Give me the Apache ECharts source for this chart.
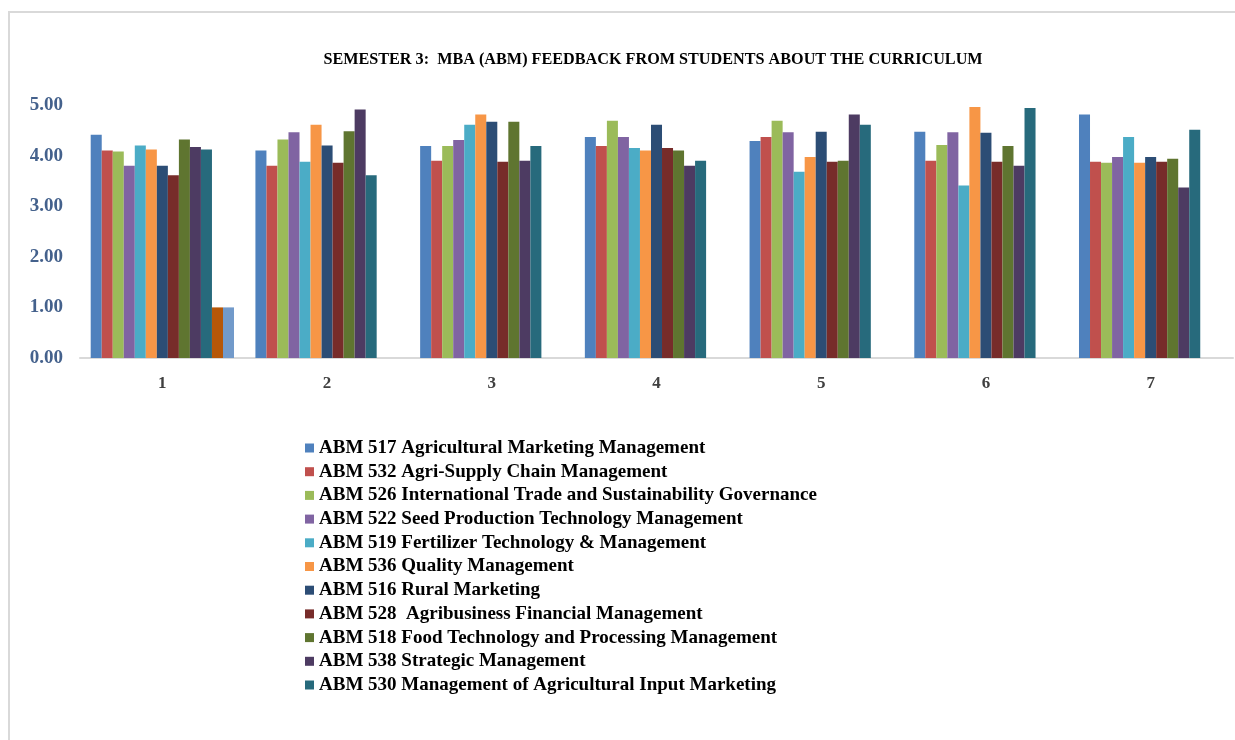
<!DOCTYPE html>
<html>
<head>
<meta charset="utf-8">
<title>Semester 3 feedback</title>
<script src="https://cdn.jsdelivr.net/npm/echarts@6/dist/echarts.min.js"></script>
<style>
    html, body {
        margin: 0;
        padding: 0;
        background: #fff;
    }
    #chart {
        width: 1235px;
        height: 740px;
    }
</style>
</head>
<body>
<div id="chart"></div>
<script>
// categories on the x axis
const categories = ["1", "2", "3", "4", "5", "6", "7"]

// course names (legend) and their values per category
const courses = [
    "ABM 517 Agricultural Marketing Management",
    "ABM 532 Agri-Supply Chain Management",
    "ABM 526 International Trade and Sustainability Governance",
    "ABM 522 Seed Production Technology Management",
    "ABM 519 Fertilizer Technology & Management",
    "ABM 536 Quality Management",
    "ABM 516 Rural Marketing",
    "ABM 528  Agribusiness Financial Management",
    "ABM 518 Food Technology and Processing Management",
    "ABM 538 Strategic Management",
    "ABM 530 Management of Agricultural Input Marketing",
]

const abm517 = [4.41, 4.10, 4.19, 4.37, 4.29, 4.47, 4.81]
const abm532 = [4.10, 3.80, 3.90, 4.19, 4.37, 3.90, 3.88]
const abm526 = [4.08, 4.32, 4.19, 4.69, 4.69, 4.21, 3.86]
const abm522 = [3.80, 4.46, 4.31, 4.37, 4.46, 4.46, 3.97]
const abm519 = [4.20, 3.88, 4.61, 4.15, 3.68, 3.41, 4.37]
const abm536 = [4.12, 4.61, 4.81, 4.10, 3.97, 4.96, 3.86]
const abm516 = [3.80, 4.20, 4.67, 4.61, 4.47, 4.45, 3.97]
const abm528 = [3.61, 3.86, 3.88, 4.15, 3.88, 3.88, 3.88]
const abm518 = [4.32, 4.48, 4.67, 4.10, 3.90, 4.19, 3.94]
const abm538 = [4.17, 4.91, 3.90, 3.80, 4.81, 3.80, 3.37]
const abm530 = [4.12, 3.61, 4.19, 3.90, 4.61, 4.94, 4.51]
// two unnamed series that only show up in category 1
const extraA = [1.00, null, null, null, null, null, null]
const extraB = [1.00, null, null, null, null, null, null]

const yTicks = [0, 1, 2, 3, 4, 5]

const colors = [
    "#4F81BD", "#C0504D", "#9BBB59", "#8064A2", "#4BACC6", "#F79646",
    "#2C4D75", "#772C2A", "#5F7530", "#4D3B62", "#276A7C", "#B65708", "#729ACA",
]

const seriesValues = [
    abm517, abm532, abm526, abm522, abm519, abm536,
    abm516, abm528, abm518, abm538, abm530, extraA, extraB,
]
const seriesNames = courses.concat(["Series12", "Series13"])

const chart = echarts.init(document.getElementById("chart"), null, { renderer: "canvas" })

const option = {
    animation: false,
    color: colors,
    graphic: [
        {
            type: "rect",
            shape: { x: 9, y: 12, width: 1240, height: 740 },
            style: { fill: "none", stroke: "#d9d9d9", lineWidth: 2 },
            silent: true,
        },
    ],
    title: {
        text: "SEMESTER 3:  MBA (ABM) FEEDBACK FROM STUDENTS ABOUT THE CURRICULUM",
        left: 648,
        textAlign: "center",
        top: 47,
        textStyle: {
            fontFamily: "Liberation Serif",
            fontWeight: "bold",
            fontSize: 16.2,
            color: "#000",
        },
    },
    legend: {
        orient: "vertical",
        left: 305,
        top: 438,
        data: courses,
        icon: "rect",
        itemWidth: 9,
        itemHeight: 9,
        itemGap: 3.7,
        padding: 0,
        textStyle: {
            fontFamily: "Liberation Serif",
            fontWeight: "bold",
            fontSize: 19,
            lineHeight: 20,
            color: "#000",
        },
    },
    grid: {
        left: 80,
        right: 2,
        top: 105,
        bottom: 382,
    },
    xAxis: {
        type: "category",
        data: categories,
        axisLine: { lineStyle: { color: "#d9d9d9", width: 2 } },
        axisTick: { lineStyle: { color: "#d9d9d9", width: 1 }, length: 6 },
        axisLabel: {
            margin: 17,
            fontFamily: "Liberation Serif",
            fontWeight: "bold",
            fontSize: 17,
            color: "#404040",
        },
    },
    yAxis: {
        type: "value",
        min: yTicks[0],
        max: yTicks[yTicks.length - 1],
        interval: 1,
        axisLine: { show: false },
        axisTick: { show: false },
        splitLine: { show: false },
        axisLabel: {
            margin: 17,
            fontFamily: "Liberation Serif",
            fontWeight: "bold",
            fontSize: 19,
            color: "#44618c",
            formatter: (v) => v.toFixed(2),
        },
    },
    series: seriesValues.map((vals, i) => ({
        name: seriesNames[i],
        type: "bar",
        data: vals,
        barGap: "0%",
        barCategoryGap: "13%",
        itemStyle: { color: colors[i] },
    })),
}

chart.setOption(option)
</script>
</body>
</html>
